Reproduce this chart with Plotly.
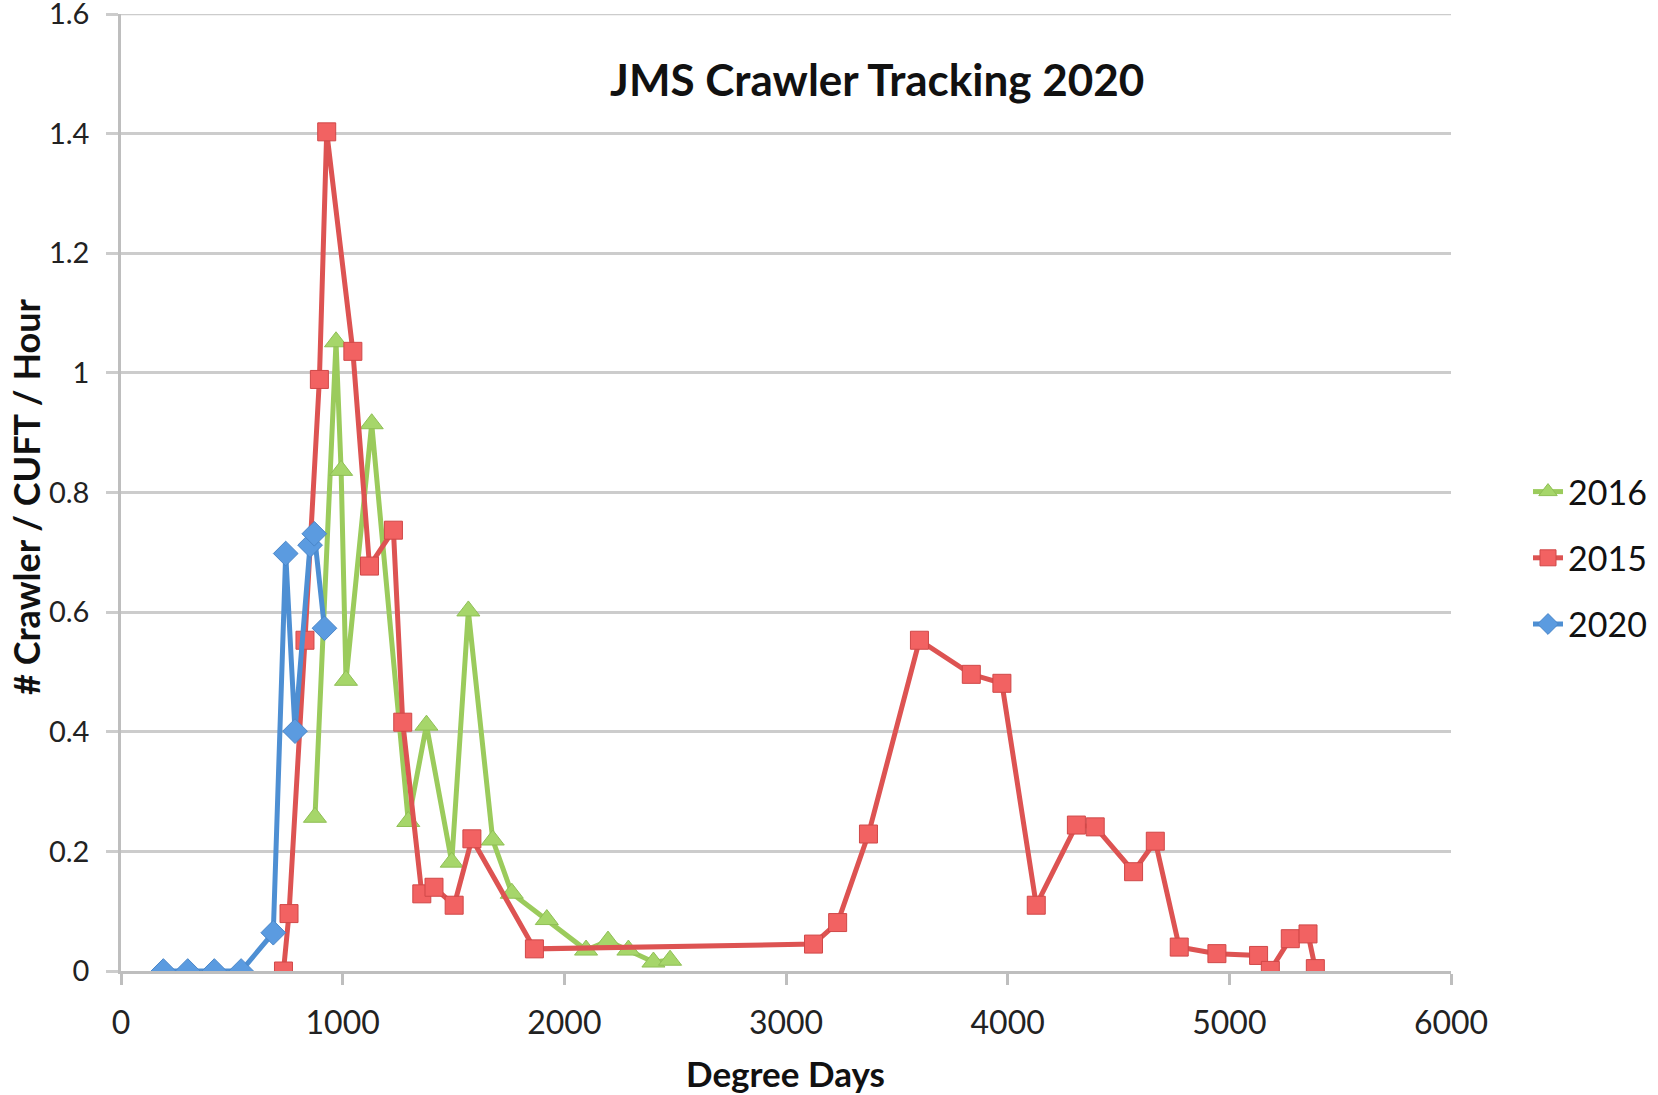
import plotly.graph_objects as go

# ---- data ----
x_2016 = [875, 970, 993, 1015, 1131, 1296, 1378, 1492, 1567, 1677, 1763, 1921, 2098, 2197, 2289, 2402, 2477]
y_2016 = [0.257, 1.052, 0.837, 0.486, 0.915, 0.25, 0.411, 0.182, 0.602, 0.219, 0.13, 0.086, 0.035, 0.05, 0.035, 0.015, 0.018]

x_2015 = [733, 758, 830, 895, 928, 1046, 1121, 1229, 1271, 1357, 1412, 1503, 1583, 1865,
          3124, 3233, 3372, 3602, 3836, 3974, 4129, 4310, 4395, 4568, 4666, 4774, 4944,
          5132, 5185, 5275, 5355, 5388]
y_2015 = [0.0, 0.096, 0.553, 0.989, 1.403, 1.036, 0.677, 0.737, 0.416, 0.129, 0.140, 0.110, 0.221, 0.037,
          0.045, 0.081, 0.229, 0.553, 0.496, 0.481, 0.110, 0.244, 0.241, 0.166, 0.217, 0.040, 0.029,
          0.026, 0.001, 0.054, 0.062, 0.004]

x_2020 = [191, 301, 421, 542, 687, 743, 785, 853, 872, 918]
y_2020 = [0, 0, 0, 0, 0.064, 0.698, 0.401, 0.712, 0.731, 0.573]

x_ticks = [0, 1000, 2000, 3000, 4000, 5000, 6000]
y_ticks = [0, 0.2, 0.4, 0.6, 0.8, 1.0, 1.2, 1.4, 1.6]
y_tick_labels = ["0", "0.2", "0.4", "0.6", "0.8", "1", "1.2", "1.4", "1.6"]

title_text = "JMS Crawler Tracking 2020"
x_title = "Degree Days"
y_title = "# Crawler / CUFT / Hour"

FONT = "Lato"
GREEN = "#9BCB5C"
RED = "#DD5352"
BLUE = "#4E8FD3"
GRID = "#CCCCCC"

fig = go.Figure()
fig.add_trace(go.Scatter(
    x=x_2016, y=y_2016, name="2016", mode="lines+markers", legendgroup="a",
    line=dict(color=GREEN, width=5),
    marker=dict(symbol="triangle-up", size=20, color="#A6D66A", line=dict(color="#8FBF55", width=1)),
))
fig.add_trace(go.Scatter(
    x=x_2015, y=y_2015, name="2015", mode="lines+markers", legendgroup="b",
    line=dict(color=RED, width=5),
    marker=dict(symbol="square", size=18, color="#F26262", line=dict(color="#D04848", width=1)),
))
fig.add_trace(go.Scatter(
    x=x_2020, y=y_2020, name="2020", mode="lines+markers", legendgroup="c",
    line=dict(color=BLUE, width=5),
    marker=dict(symbol="diamond", size=19, color="#5B9BE0", line=dict(color="#4A86C8", width=1)),
))

W, H = 1658, 1095
L, R, T, B = 121, 207, 14, 124
pw, ph = W - L - R, H - T - B


def px(xp):
    return (xp - L) / pw


def py(yp):
    return (H - B - yp) / ph


fig.update_layout(
    width=W, height=H,
    margin=dict(l=L, r=R, t=T, b=B, autoexpand=False),
    paper_bgcolor="white", plot_bgcolor="white",
    font=dict(family=FONT, color="#222222"),
    showlegend=True,
    legend=dict(
        x=px(1528), y=py(558), xanchor="left", yanchor="middle",
        font=dict(family=FONT, size=34, color="#111111"),
        traceorder="grouped", tracegroupgap=19,
        bgcolor="rgba(0,0,0,0)",
    ),
    xaxis=dict(
        range=[0, 6000], tickvals=x_ticks,
        showgrid=False, zeroline=False,
        showline=True, linecolor="#BEBEBE", linewidth=2.5,
        ticks="outside", ticklen=11, tickwidth=2.5, tickcolor="#BEBEBE",
        ticklabelstandoff=11,
        tickfont=dict(family=FONT, size=32, color="#222222"),
    ),
    yaxis=dict(
        range=[0, 1.6000001], tickvals=y_ticks, ticktext=y_tick_labels,
        showgrid=True, gridcolor=GRID, gridwidth=2.5,
        zeroline=False,
        showline=True, linecolor="#BEBEBE", linewidth=2.5,
        ticks="outside", ticklen=12, tickwidth=2.5, tickcolor=GRID,
        ticklabelstandoff=11, ticklabeloverflow="allow",
        tickfont=dict(family=FONT, size=29, color="#222222"),
    ),
    shapes=[
        dict(type="line", xref="paper", yref="y", x0=0, x1=1,
             y0=y_ticks[-1], y1=y_ticks[-1], line=dict(color=GRID, width=2.5), layer="below"),
    ],
    annotations=[
        dict(text="<b>" + title_text + "</b>", x=px(877), y=py(79), xref="paper", yref="paper",
             xanchor="center", yanchor="middle", showarrow=False,
             font=dict(family=FONT, size=44, color="#111111")),
        dict(text="<b>" + x_title + "</b>", x=px(785), y=py(1073), xref="paper", yref="paper",
             xanchor="center", yanchor="middle", showarrow=False,
             font=dict(family=FONT, size=35, color="#111111")),
        dict(text="<b>" + y_title + "</b>", x=px(26), y=py(497), xref="paper", yref="paper",
             xanchor="center", yanchor="middle", showarrow=False, textangle=-90,
             font=dict(family=FONT, size=36, color="#111111")),
    ],
)

fig.write_html(
    "out.html",
    config={"displayModeBar": False},
    post_script="document.body.style.margin='0';document.body.style.padding='0';",
)
